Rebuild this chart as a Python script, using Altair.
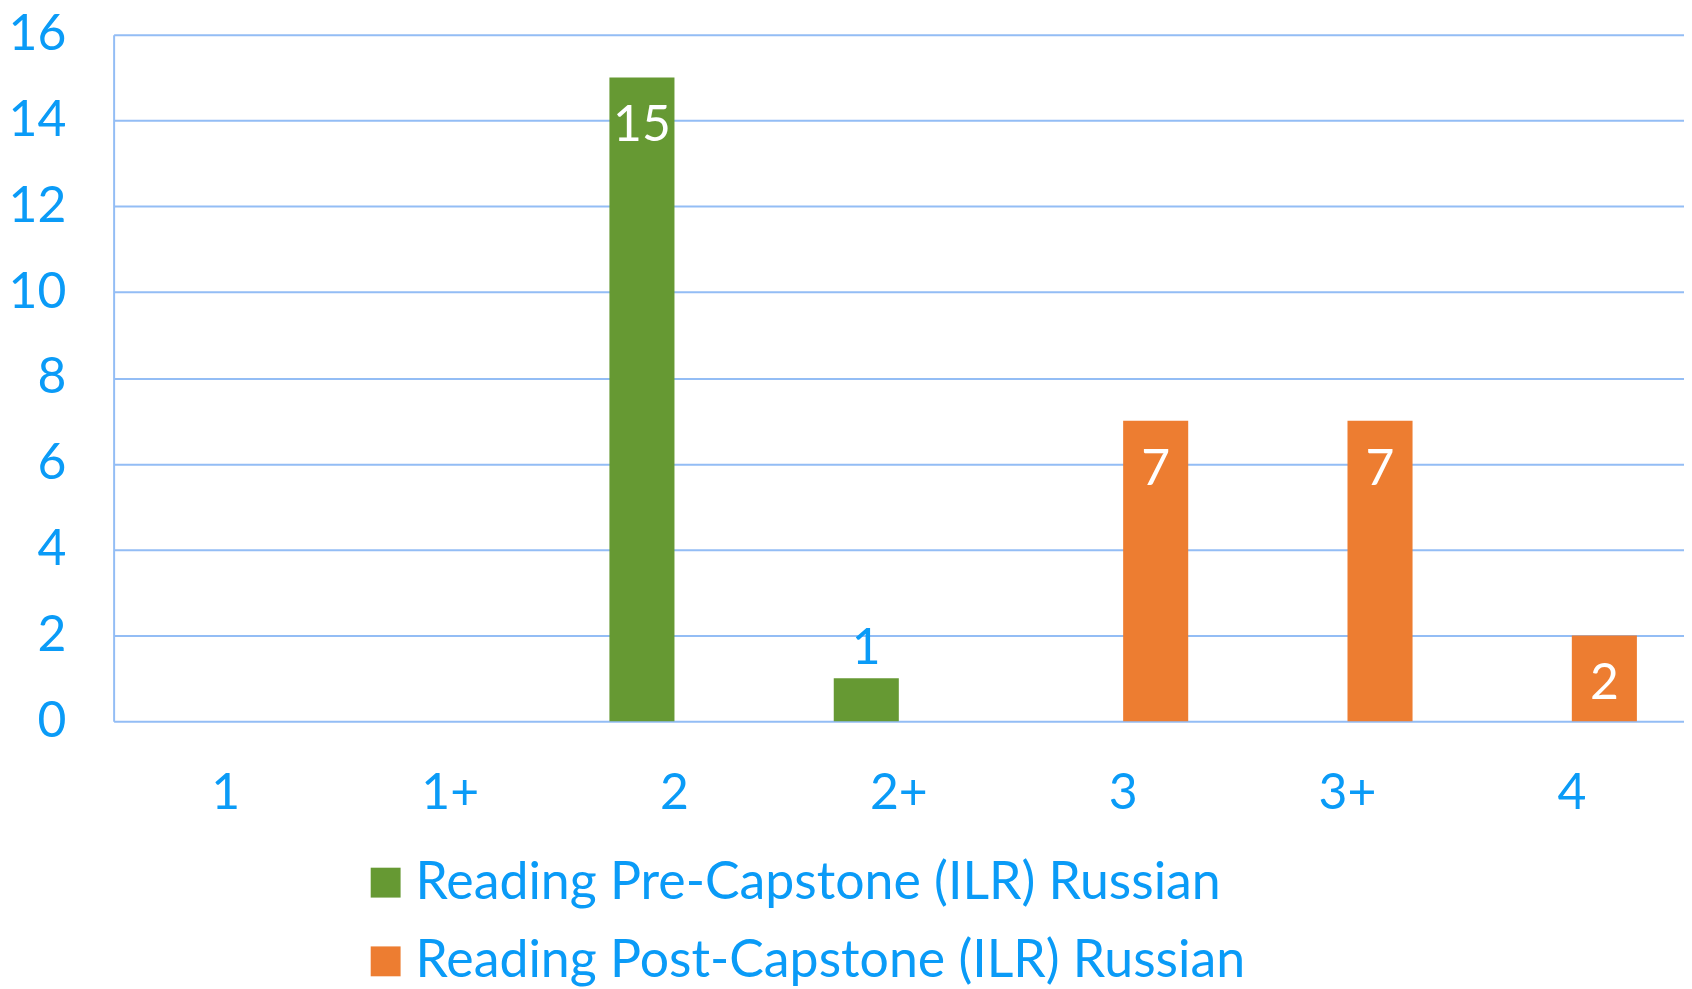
import altair as alt
import pandas as pd

categories = ["1", "1+", "2", "2+", "3", "3+", "4"]
series_names = ["Reading Pre-Capstone (ILR) Russian", "Reading Post-Capstone (ILR) Russian"]
pre_values = [0, 0, 15, 1, 0, 0, 0]
post_values = [0, 0, 0, 0, 7, 7, 2]
colors = ["#669933", "#ED7D31"]

rows = []
for c, v in zip(categories, pre_values):
    rows.append({"level": c, "series": series_names[0], "count": v})
for c, v in zip(categories, post_values):
    rows.append({"level": c, "series": series_names[1], "count": v})
df = pd.DataFrame(rows)

BLUE = "#0A9BF7"
GRID = "#93BDF5"
FONT = "Lato"

x_enc = alt.X("level:N", sort=categories, title=None,
              scale=alt.Scale(paddingInner=0.42, paddingOuter=0.21),
              axis=alt.Axis(labelAngle=0, ticks=False, domain=False,
                            labelFontSize=50, labelColor=BLUE, labelFont=FONT,
                            labelPadding=48))
xoff = alt.XOffset("series:N", sort=series_names, scale=alt.Scale(paddingInner=0, paddingOuter=0))
y_enc = alt.Y("count:Q", title=None,
              scale=alt.Scale(domain=[0, 16], nice=False),
              axis=alt.Axis(values=list(range(0, 17, 2)), ticks=False, domain=True,
                            domainColor=GRID, domainWidth=2,
                            gridColor=GRID, gridWidth=2,
                            labelFontSize=50, labelColor=BLUE, labelFont=FONT,
                            labelPadding=48))

base = alt.Chart(df)

bars = base.mark_bar(stroke=None).encode(
    x=x_enc,
    xOffset=xoff,
    y=y_enc,
    color=alt.Color("series:N", sort=series_names, title=None,
                    scale=alt.Scale(domain=series_names, range=colors),
                    legend=alt.Legend(orient="none", legendX=247, legendY=825,
                                      direction="vertical", symbolType="square",
                                      symbolSize=900, symbolStrokeWidth=0,
                                      labelFontSize=52, labelColor=BLUE, labelFont=FONT,
                                      labelOffset=4, rowPadding=27, labelLimit=1200)),
)

inside = base.transform_filter("datum.count >= 2").mark_text(
    fontSize=50, font=FONT, color="white", baseline="middle", dy=49
).encode(
    x=alt.X("level:N", sort=categories),
    xOffset=xoff,
    y=alt.Y("count:Q"),
    text="count:Q",
)

outside = base.transform_filter("datum.count > 0 && datum.count < 2").mark_text(
    fontSize=50, font=FONT, color=BLUE, baseline="middle", dy=-29
).encode(
    x=alt.X("level:N", sort=categories),
    xOffset=xoff,
    y=alt.Y("count:Q"),
    text="count:Q",
)

chart = alt.layer(bars, inside, outside).properties(
    width=1576, height=689,
    autosize=alt.AutoSizeParams(type="none"),
    padding={"left": 106, "top": 25, "right": 0, "bottom": 275},
).configure_view(stroke=None).configure_axis(grid=True).configure_axisX(grid=False)

chart.save("out.html", embed_options={"renderer": "svg", "actions": False})
